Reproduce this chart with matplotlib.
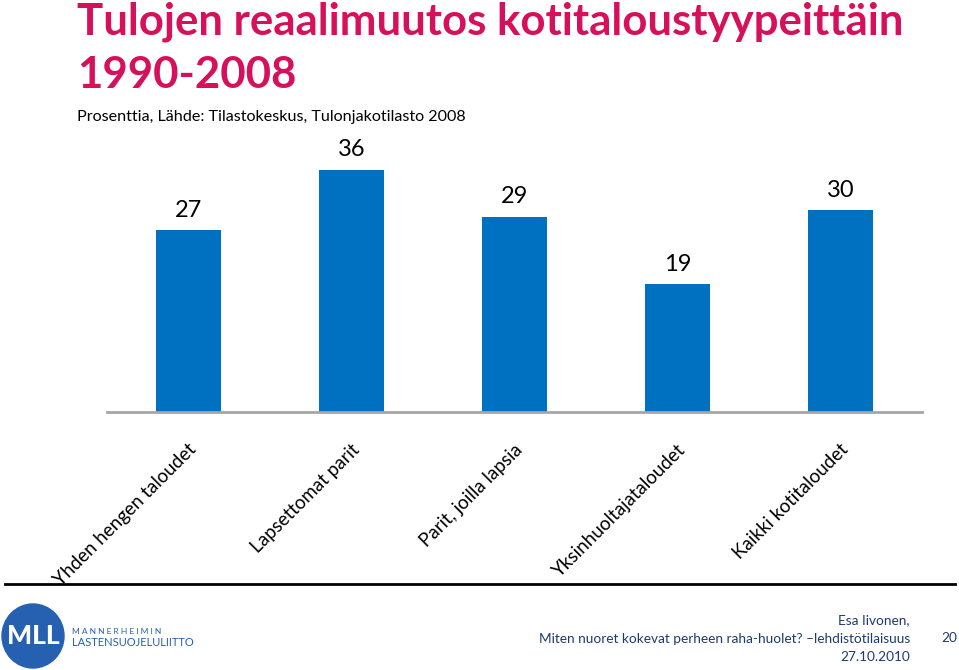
import matplotlib.pyplot as plt
from matplotlib.patches import Ellipse
from matplotlib.lines import Line2D

categories = ['Yhden hengen taloudet', 'Lapsettomat parit', 'Parit, joilla lapsia',
              'Yksinhuoltajataloudet', 'Kaikki kotitaloudet']
values = [27, 36, 29, 19, 30]

W, H = 959, 670
plt.rcParams['font.family'] = ['Lato', 'DejaVu Sans']
fig = plt.figure(figsize=(W / 100, H / 100), dpi=100)

# axes: x 107..922 px, baseline y=412, top y=143 (ylim 0..40)
ax = fig.add_axes([107 / W, 1 - 412 / H, (922 - 107) / W, (412 - 143) / H])
x = range(len(values))
ax.bar(x, values, width=0.4, color='#0070C0')
ax.set_xlim(-0.5, len(values) - 0.5)
ax.set_ylim(0, 40)
for xi, v in zip(x, values):
    ax.text(xi, v + 3.0, str(v), ha='center', va='center', fontsize=17, color='black')
ax.set_yticks([])
ax.set_xticks([xi + 0.03 for xi in x])
ax.set_xticklabels(categories, rotation=45, ha='right', va='center',
                   rotation_mode='anchor', fontsize=13.5)
ax.tick_params(axis='x', length=0, pad=25)
for s in ['top', 'right', 'left']:
    ax.spines[s].set_visible(False)
ax.spines['bottom'].set_color('#A6A6A6')
ax.spines['bottom'].set_linewidth(2)

# title
title_color = '#D6105A'
fig.text(77 / W, 1 - 22 / H, 'Tulojen reaalimuutos kotitaloustyypeittäin', fontsize=31.5,
         fontweight='bold', color=title_color, ha='left', va='center')
fig.text(77 / W, 1 - 75 / H, '1990-2008', fontsize=31.5, fontweight='bold',
         color=title_color, ha='left', va='center')
fig.text(77 / W, 1 - 117 / H, 'Prosenttia, Lähde: Tilastokeskus, Tulonjakotilasto 2008',
         fontsize=11.6, color='black', ha='left', va='center')

# separator line
fig.add_artist(Line2D([5 / W, 955 / W], [1 - 584 / H, 1 - 584 / H], color='black', lw=2))

# logo
fig.add_artist(Ellipse((33 / W, 1 - 636 / H), 62 / W, 64 / H, color='#2660B0'))
fig.text(33 / W, 1 - 636 / H, 'MLL', fontsize=19, fontweight='black', color='white',
         ha='center', va='center')
fig.text(72 / W, 1 - 631 / H, 'M A N N E R H E I M I N', fontsize=6, color='#2660B0',
         ha='left', va='center')
fig.text(72 / W, 1 - 642 / H, 'LASTENSUOJELULIITTO', fontsize=8, color='#2660B0',
         ha='left', va='center')

# footer
foot = '#1F3A6E'
fig.text(910 / W, 1 - 620 / H, 'Esa Iivonen,', fontsize=9.8, color=foot, ha='right', va='center')
fig.text(910 / W, 1 - 639 / H, 'Miten nuoret kokevat perheen raha-huolet? \u2013lehdistötilaisuus',
         fontsize=9.8, color=foot, ha='right', va='center')
fig.text(910 / W, 1 - 657 / H, '27.10.2010', fontsize=9.8, color=foot, ha='right', va='center')
fig.text(949 / W, 1 - 638 / H, '20', fontsize=9.8, color=foot, ha='center', va='center')

fig.savefig('out.png', dpi=100)
